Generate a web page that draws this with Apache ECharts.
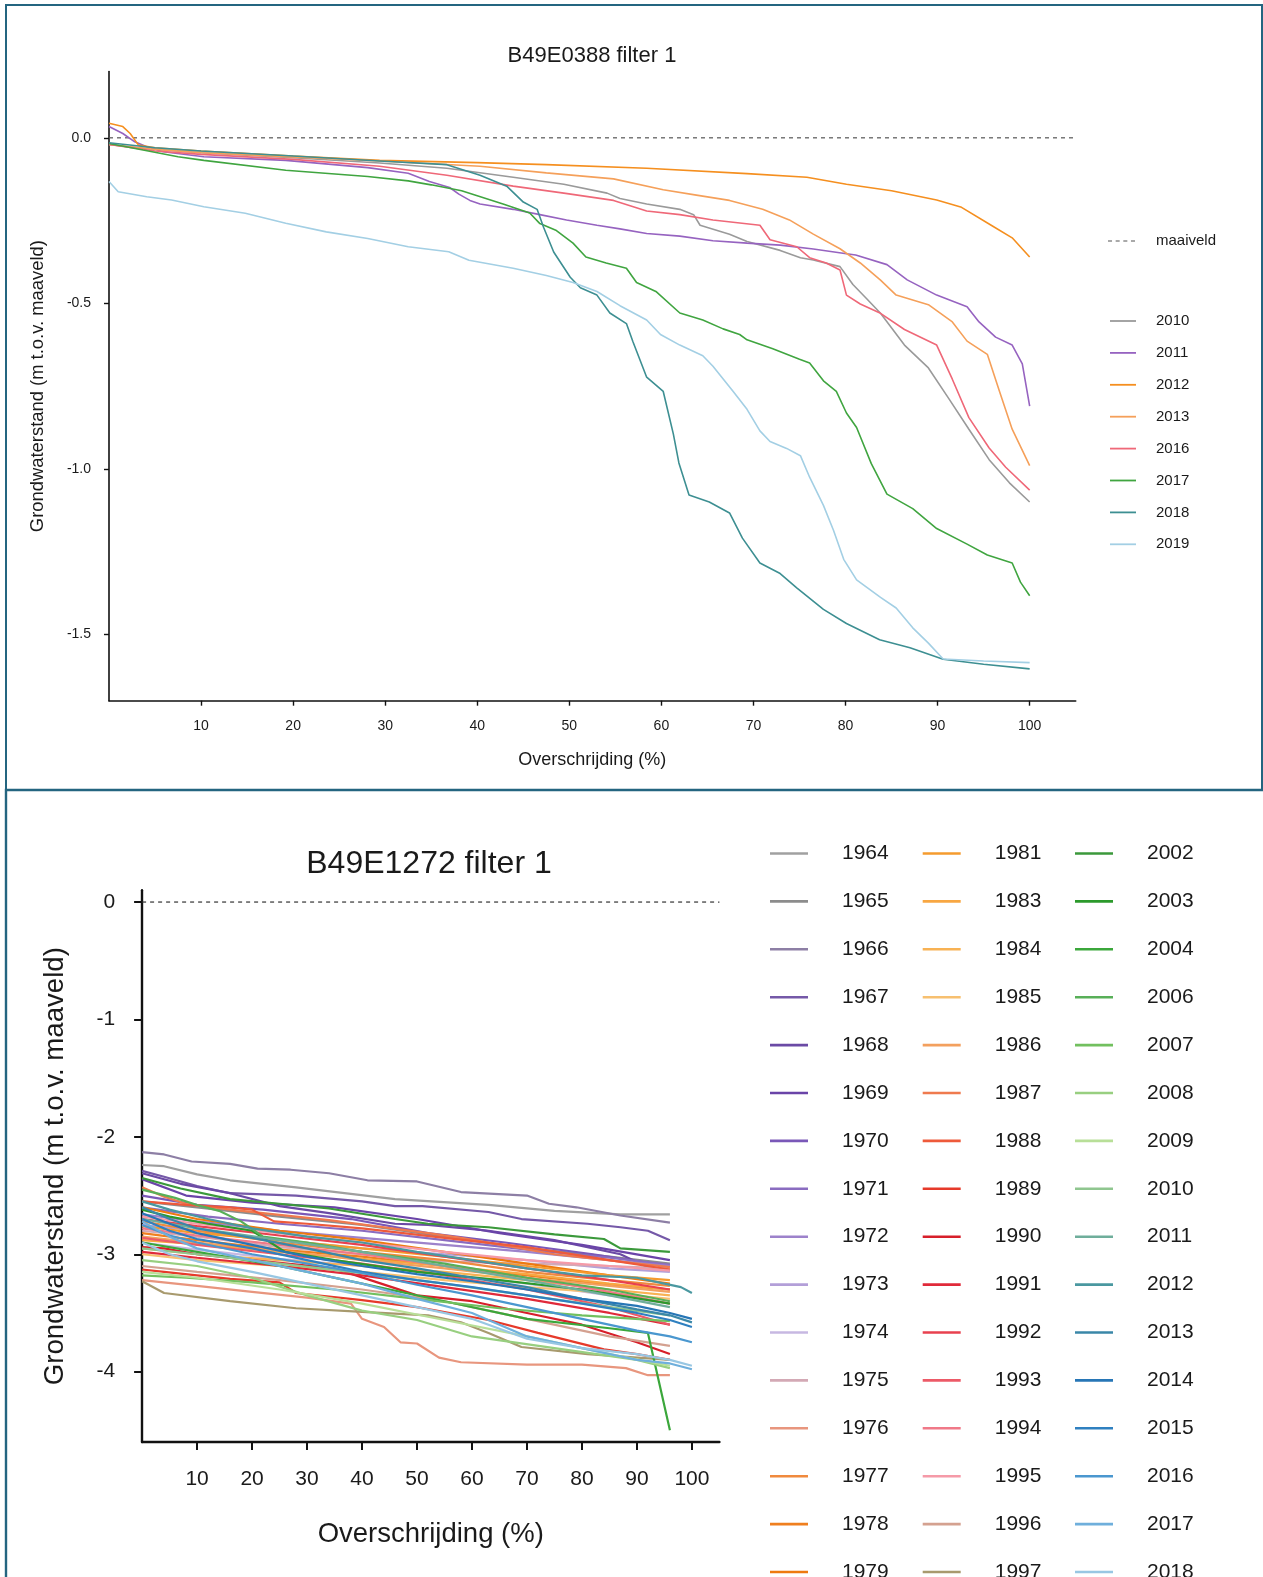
<!DOCTYPE html>
<html>
<head>
<meta charset="utf-8">
<script src="https://cdn.jsdelivr.net/npm/echarts@6/dist/echarts.min.js"></script>
<style>html,body{margin:0;padding:0;background:#fff;overflow:hidden}#c{width:1263px;height:1577px}</style>
</head>
<body>
<div id="c"></div>
<script>
// ---------- TOP PANEL DATA: B49E0388 filter 1 ----------
const TOP_YEARS = ['2010','2011','2012','2013','2016','2017','2018','2019'];
const T2010 = [[0,-0.02],[3,-0.03],[10,-0.045],[20,-0.06],[29.4,-0.076],[36.7,-0.092],[43.9,-0.119],[49.4,-0.14],[54.1,-0.167],[55.5,-0.183],[58.4,-0.2],[62,-0.216],[63.5,-0.232],[64.2,-0.264],[67.4,-0.291],[69.3,-0.313],[72.9,-0.34],[75.1,-0.362],[76.5,-0.369],[79.4,-0.389],[80.8,-0.443],[82.3,-0.486],[83.8,-0.53],[86.4,-0.626],[89,-0.695],[91.2,-0.787],[93.4,-0.88],[95.6,-0.972],[97.8,-1.042],[100,-1.1]];
const T2011 = [[0,0.034],[1.5,0.013],[2.8,-0.012],[4.1,-0.027],[5.9,-0.042],[10.3,-0.057],[19.2,-0.068],[28.1,-0.09],[32.5,-0.107],[34.8,-0.132],[37,-0.15],[38,-0.17],[39.2,-0.189],[40.3,-0.2],[43.9,-0.216],[46.8,-0.232],[49.7,-0.248],[53,-0.264],[55.5,-0.275],[58.4,-0.289],[62,-0.297],[65.6,-0.311],[69.3,-0.318],[72.9,-0.324],[76.5,-0.336],[80.1,-0.35],[81.1,-0.354],[84.5,-0.383],[86.7,-0.429],[89.9,-0.475],[93.2,-0.51],[94.5,-0.556],[96.3,-0.602],[98.1,-0.626],[99.2,-0.683],[100,-0.81]];
const T2012 = [[0,0.044],[1.5,0.034],[2.3,0.013],[3.2,-0.022],[5,-0.03],[10,-0.04],[20,-0.055],[29.4,-0.068],[40,-0.075],[47.5,-0.081],[58.4,-0.092],[69.3,-0.108],[75.8,-0.119],[80.1,-0.14],[85,-0.16],[89.9,-0.188],[92.6,-0.21],[96,-0.267],[98.1,-0.302],[100,-0.36]];
const T2013 = [[0,-0.02],[5,-0.035],[10,-0.045],[20,-0.058],[29.4,-0.07],[40.3,-0.086],[47.5,-0.106],[54.8,-0.124],[60.2,-0.157],[63.8,-0.173],[67.4,-0.189],[71,-0.216],[73.9,-0.248],[76.5,-0.291],[79.4,-0.335],[81.6,-0.378],[83.8,-0.43],[85.5,-0.475],[89,-0.504],[91.6,-0.556],[93.2,-0.614],[95.4,-0.654],[96.7,-0.764],[98.1,-0.88],[100,-0.99]];
const T2016 = [[0,-0.02],[5,-0.04],[10,-0.05],[20,-0.065],[29.4,-0.086],[36.7,-0.113],[43.9,-0.146],[49.4,-0.167],[54.8,-0.189],[58.4,-0.221],[62,-0.232],[65.6,-0.248],[70.7,-0.264],[71.8,-0.308],[74.7,-0.329],[76.1,-0.362],[77.9,-0.378],[79.4,-0.399],[80.1,-0.475],[81.6,-0.502],[83.8,-0.53],[86.4,-0.579],[89.9,-0.626],[91.6,-0.729],[93.4,-0.845],[95.6,-0.937],[97.4,-0.995],[100,-1.064]];
const T2017 = [[0,-0.017],[3.7,-0.037],[7.5,-0.057],[10.3,-0.068],[19.2,-0.098],[28.1,-0.117],[32.5,-0.13],[35,-0.142],[38.3,-0.16],[42.8,-0.2],[45.7,-0.227],[46.8,-0.259],[48.6,-0.28],[50.4,-0.318],[51.8,-0.36],[54,-0.378],[56.2,-0.394],[57.3,-0.437],[59.4,-0.464],[62,-0.529],[64.5,-0.55],[66.7,-0.577],[68.5,-0.594],[69.3,-0.61],[72.1,-0.637],[75,-0.669],[76.1,-0.68],[77.6,-0.734],[79,-0.766],[80.1,-0.831],[81.2,-0.875],[82.8,-0.984],[84.5,-1.076],[87.3,-1.12],[89.9,-1.18],[93.2,-1.227],[95.4,-1.26],[98.1,-1.284],[99,-1.342],[100,-1.383]];
const T2018 = [[0,-0.015],[5,-0.03],[10,-0.04],[20,-0.055],[29.4,-0.07],[36.7,-0.081],[40.3,-0.113],[43.2,-0.146],[45,-0.194],[46.5,-0.216],[47.2,-0.27],[48.3,-0.345],[50.1,-0.421],[51.2,-0.453],[53,-0.475],[54.4,-0.529],[56.2,-0.561],[56.9,-0.615],[58.4,-0.723],[60.2,-0.766],[61.3,-0.895],[61.9,-0.982],[63,-1.079],[65.2,-1.1],[67.4,-1.133],[68.8,-1.209],[70.7,-1.284],[72.9,-1.316],[74.7,-1.359],[77.6,-1.424],[80.1,-1.467],[83.7,-1.516],[87,-1.54],[90.6,-1.575],[95,-1.59],[100,-1.604]];
const T2019 = [[0,-0.132],[1,-0.163],[4.1,-0.178],[6.8,-0.188],[10.3,-0.208],[14.8,-0.228],[19.2,-0.258],[23.6,-0.284],[28.1,-0.304],[32.5,-0.329],[36.9,-0.344],[39.1,-0.37],[43.9,-0.394],[47.5,-0.416],[50.4,-0.437],[53,-0.464],[55.5,-0.507],[58.4,-0.55],[59.9,-0.594],[62,-0.626],[64.5,-0.658],[65.6,-0.69],[67.8,-0.766],[69.3,-0.82],[70.7,-0.885],[71.8,-0.917],[73.6,-0.938],[75.1,-0.96],[76.1,-1.025],[77.6,-1.11],[78.7,-1.186],[79.8,-1.273],[81.2,-1.335],[83.8,-1.388],[85.5,-1.42],[87.3,-1.48],[89,-1.526],[90.6,-1.574],[95,-1.58],[100,-1.585]];
const TOP_VALUES = [T2010,T2011,T2012,T2013,T2016,T2017,T2018,T2019];
const TOP_X_TICKS = [10,20,30,40,50,60,70,80,90,100];
const TOP_Y_TICKS = [0,-0.5,-1,-1.5];
const MAAIVELD = [[0,0],[105,0]];

// ---------- BOTTOM PANEL DATA: B49E1272 filter 1 ----------
const B1964 = [[0,-2.24],[4,-2.25],[10,-2.32],[16,-2.37],[28,-2.43],[46,-2.53],[63,-2.58],[75,-2.63],[87,-2.66],[96,-2.66]];
const B1965 = [[0,-2.55],[10,-2.6],[25,-2.68],[40,-2.75],[55,-2.85],[70,-2.95],[85,-3.02],[96,-3.08]];
const B1966 = [[0,-2.13],[4,-2.15],[9,-2.21],[16,-2.23],[21,-2.27],[27,-2.28],[34,-2.31],[41,-2.37],[50,-2.38],[58,-2.47],[70,-2.5],[74,-2.57],[79,-2.6],[87,-2.67],[96,-2.73]];
const B1967 = [[0,-2.29],[4,-2.34],[10,-2.42],[16,-2.48],[28,-2.5],[40,-2.55],[46,-2.59],[51,-2.59],[63,-2.64],[69,-2.7],[81,-2.74],[87,-2.77],[92,-2.8],[96,-2.88]];
const B1968 = [[0,-2.31],[7,-2.4],[16,-2.48],[25,-2.59],[34,-2.65],[46,-2.74],[52,-2.75],[63,-2.8],[75,-2.88],[87,-3.0],[92,-3.11],[96,-3.14]];
const B1969 = [[0,-2.36],[8,-2.5],[20,-2.56],[35,-2.6],[50,-2.7],[65,-2.82],[80,-2.92],[96,-3.05]];
const B1970 = [[0,-2.5],[10,-2.58],[22,-2.62],[38,-2.7],[52,-2.82],[66,-2.9],[82,-3.0],[96,-3.1]];
const B1971 = [[0,-2.6],[12,-2.68],[25,-2.74],[40,-2.8],[55,-2.88],[70,-2.96],[85,-3.03],[96,-3.09]];
const B1972 = [[0,-2.66],[10,-2.72],[25,-2.8],[40,-2.86],[55,-2.92],[70,-2.98],[85,-3.05],[96,-3.1]];
const B1973 = [[0,-2.75],[10,-2.8],[25,-2.88],[40,-2.95],[55,-3.0],[70,-3.05],[85,-3.12],[96,-3.15]];
const B1974 = [[0,-2.9],[10,-2.96],[25,-3.04],[40,-3.1],[55,-3.17],[70,-3.25],[85,-3.35],[96,-3.42]];
const B1975 = [[0,-2.8],[12,-2.86],[25,-2.94],[40,-3.0],[55,-3.06],[70,-3.08],[85,-3.1],[96,-3.12]];
const B1976 = [[0,-3.22],[10,-3.27],[20,-3.32],[30,-3.37],[38,-3.42],[40,-3.55],[44,-3.62],[47,-3.75],[50,-3.76],[54,-3.88],[58,-3.92],[70,-3.94],[80,-3.94],[88,-3.97],[92,-4.03],[96,-4.03]];
const B1977 = [[0,-2.72],[10,-2.8],[25,-2.9],[40,-2.98],[55,-3.05],[70,-3.15],[85,-3.22],[96,-3.27]];
const B1978 = [[0,-2.82],[10,-2.88],[25,-2.96],[40,-3.02],[55,-3.1],[70,-3.18],[85,-3.26],[96,-3.3]];
const B1979 = [[0,-2.6],[10,-2.7],[25,-2.8],[40,-2.88],[55,-2.98],[70,-3.08],[85,-3.18],[96,-3.25]];
const B1981 = [[0,-2.76],[10,-2.82],[25,-2.88],[40,-2.95],[55,-3.02],[70,-3.1],[85,-3.18],[96,-3.22]];
const B1983 = [[0,-2.88],[12,-2.92],[25,-2.98],[40,-3.04],[55,-3.1],[70,-3.17],[85,-3.25],[96,-3.3]];
const B1984 = [[0,-2.95],[10,-3.0],[25,-3.05],[40,-3.1],[55,-3.15],[70,-3.22],[85,-3.3],[96,-3.35]];
const B1985 = [[0,-3.0],[10,-3.05],[25,-3.1],[40,-3.15],[55,-3.22],[70,-3.28],[85,-3.33],[96,-3.38]];
const B1986 = [[0,-2.85],[10,-2.9],[25,-2.97],[40,-3.05],[55,-3.12],[70,-3.2],[85,-3.27],[96,-3.32]];
const B1987 = [[0,-2.43],[4,-2.51],[8,-2.57],[16,-2.62],[34,-2.71],[52,-2.82],[58,-2.86],[75,-3.0],[96,-3.11]];
const B1988 = [[0,-2.55],[8,-2.58],[16,-2.6],[20,-2.62],[24,-2.72],[30,-2.74],[40,-2.78],[55,-2.86],[70,-2.94],[85,-3.05],[96,-3.13]];
const B1989 = [[0,-3.13],[4,-3.15],[16,-3.21],[25,-3.24],[28,-3.33],[34,-3.36],[40,-3.39],[50,-3.45],[63,-3.56],[72,-3.67],[84,-3.81],[90,-3.85],[96,-3.9]];
const B1990 = [[0,-2.94],[4,-2.95],[10,-3.0],[20,-3.05],[35,-3.12],[50,-3.35],[60,-3.4],[70,-3.5],[80,-3.6],[90,-3.75],[96,-3.85]];
const B1991 = [[0,-2.98],[10,-3.03],[25,-3.1],[40,-3.18],[55,-3.28],[70,-3.38],[85,-3.5],[96,-3.6]];
const B1992 = [[0,-2.7],[10,-2.76],[25,-2.84],[40,-2.92],[55,-3.02],[70,-3.12],[85,-3.22],[96,-3.3]];
const B1993 = [[0,-2.86],[10,-2.92],[25,-3.0],[40,-3.08],[55,-3.18],[70,-3.3],[85,-3.45],[96,-3.6]];
const B1994 = [[0,-2.78],[10,-2.84],[25,-2.92],[40,-3.0],[55,-3.1],[70,-3.2],[85,-3.32],[96,-3.42]];
const B1995 = [[0,-2.68],[10,-2.74],[25,-2.82],[40,-2.9],[55,-2.98],[70,-3.05],[85,-3.1],[96,-3.14]];
const B1996 = [[0,-3.1],[10,-3.15],[25,-3.22],[40,-3.3],[55,-3.4],[70,-3.55],[85,-3.7],[96,-3.78]];
const B1997 = [[0,-3.23],[4,-3.33],[16,-3.4],[28,-3.46],[40,-3.49],[52,-3.52],[58,-3.58],[63,-3.67],[69,-3.79],[81,-3.85],[96,-3.9]];
const B2002 = [[0,-2.35],[7,-2.44],[16,-2.53],[25,-2.57],[34,-2.61],[46,-2.7],[52,-2.74],[63,-2.77],[75,-2.83],[84,-2.87],[87,-2.95],[96,-2.98]];
const B2003 = [[0,-2.62],[5,-2.68],[12,-2.74],[20,-2.8],[26,-2.98],[35,-3.05],[50,-3.15],[65,-3.22],[80,-3.3],[96,-3.42]];
const B2004 = [[0,-2.9],[10,-2.98],[25,-3.1],[40,-3.25],[55,-3.4],[70,-3.55],[85,-3.63],[92,-3.67],[96,-4.5]];
const B2006 = [[0,-2.45],[6,-2.52],[10,-2.58],[14,-2.63],[18,-2.72],[22,-2.85],[30,-2.9],[40,-2.98],[55,-3.08],[70,-3.2],[85,-3.3],[96,-3.4]];
const B2007 = [[0,-3.18],[8,-3.2],[20,-3.24],[35,-3.3],[50,-3.38],[65,-3.46],[80,-3.52],[96,-3.57]];
const B2008 = [[0,-3.05],[10,-3.1],[20,-3.2],[30,-3.35],[40,-3.48],[50,-3.56],[60,-3.7],[75,-3.8],[90,-3.9],[96,-3.97]];
const B2009 = [[0,-3.15],[10,-3.2],[25,-3.3],[40,-3.42],[55,-3.56],[70,-3.7],[85,-3.85],[96,-3.95]];
const B2010 = [[0,-2.95],[10,-3.0],[25,-3.08],[40,-3.16],[55,-3.25],[70,-3.35],[85,-3.45],[96,-3.52]];
const B2011 = [[0,-2.7],[10,-2.78],[25,-2.88],[40,-2.98],[55,-3.1],[70,-3.22],[85,-3.35],[96,-3.45]];
const B2012 = [[0,-2.55],[5,-2.62],[12,-2.7],[20,-2.78],[30,-2.85],[40,-2.9],[50,-2.98],[60,-3.05],[70,-3.12],[80,-3.18],[90,-3.2],[95,-3.25],[98,-3.28],[100,-3.33]];
const B2013 = [[0,-2.6],[5,-2.7],[10,-2.78],[20,-2.86],[30,-2.95],[40,-3.05],[50,-3.12],[60,-3.2],[70,-3.28],[80,-3.38],[90,-3.47],[96,-3.52],[100,-3.58]];
const B2014 = [[0,-2.65],[5,-2.74],[10,-2.82],[20,-2.92],[30,-3.02],[40,-3.1],[50,-3.17],[60,-3.23],[70,-3.3],[80,-3.38],[90,-3.44],[96,-3.5],[100,-3.55]];
const B2015 = [[0,-2.7],[5,-2.8],[10,-2.87],[20,-2.95],[30,-3.05],[40,-3.15],[50,-3.22],[60,-3.28],[70,-3.35],[80,-3.42],[90,-3.5],[96,-3.56],[100,-3.62]];
const B2016 = [[0,-2.75],[5,-2.84],[10,-2.9],[20,-3.0],[30,-3.08],[40,-3.16],[50,-3.26],[60,-3.35],[70,-3.45],[80,-3.55],[90,-3.65],[96,-3.7],[100,-3.75]];
const B2017 = [[0,-2.72],[5,-2.85],[10,-2.95],[20,-3.05],[30,-3.15],[40,-3.25],[50,-3.38],[60,-3.5],[70,-3.7],[80,-3.8],[90,-3.9],[96,-3.93],[100,-3.98]];
const B2018 = [[0,-2.9],[5,-3.0],[10,-3.06],[20,-3.15],[30,-3.25],[40,-3.35],[50,-3.45],[60,-3.55],[70,-3.72],[80,-3.8],[90,-3.85],[96,-3.9],[100,-3.95]];
const BOT_COL1 = ['1964','1965','1966','1967','1968','1969','1970','1971','1972','1973','1974','1975','1976','1977','1978','1979'];
const BOT_COL2 = ['1981','1983','1984','1985','1986','1987','1988','1989','1990','1991','1992','1993','1994','1995','1996','1997'];
const BOT_COL3 = ['2002','2003','2004','2006','2007','2008','2009','2010','2011','2012','2013','2014','2015','2016','2017','2018'];
const BOT_VALUES = [B1964,B1965,B1966,B1967,B1968,B1969,B1970,B1971,B1972,B1973,B1974,B1975,B1976,B1977,B1978,B1979,
  B1981,B1983,B1984,B1985,B1986,B1987,B1988,B1989,B1990,B1991,B1992,B1993,B1994,B1995,B1996,B1997,
  B2002,B2003,B2004,B2006,B2007,B2008,B2009,B2010,B2011,B2012,B2013,B2014,B2015,B2016,B2017,B2018];
const BOT_X_TICKS = [10,20,30,40,50,60,70,80,90,100];
const BOT_Y_TICKS = [0,-1,-2,-3,-4];

// ---------- STYLES ----------
const TOP_COLORS = ['#9a9a9a','#9663c0','#f58f1f','#f5a05a','#ef6878','#40a540','#3d8f92','#a3cfe4'];
const BOT_COLORS = ['#a0a0a0','#8c8c8c','#8d7fa5','#7559a8','#6b4aa5','#6a44a8','#7a58b8','#8a6cc0','#9d82cb','#b39fd8','#c7b8e2','#d3a9b5','#e8967e','#f08a3e','#ef7f1f','#ee7a10',
  '#f59b2e','#f8a742','#f8b254','#f7c070','#f3a05e','#ef7a4e','#ee5a3a','#e63a2a','#d71f2a','#e02a3a','#e8414f','#ec5a67','#f07988','#f59aa8','#d4a190','#a89a6e',
  '#3b993b','#2c9a2c','#3ba73b','#58af58','#72c05f','#98cf80','#b8df98','#8fc68f','#6fae9b','#4a98a0','#3a87a8','#2776b6','#2f80c0','#4a97cf','#6fafdc','#98c7e3'];
const FONT = '"Liberation Sans", Arial, Helvetica, sans-serif';
const INK = '#1a1a1a';
const FRAME = '#246580';
const DASH_ICON = 'path://M0,0h4v1h-4z M7.6,0h4v1h-4z M15.2,0h4v1h-4z M22.8,0h4v1h-4z';

const BOT_YEARS = BOT_COL1.concat(BOT_COL2, BOT_COL3);

const series = [];
series.push({name:'maaiveld', type:'line', xAxisIndex:0, yAxisIndex:0, data:MAAIVELD, symbol:'none',
  lineStyle:{color:'#555', width:1.2, type:[4,4]}, itemStyle:{color:'#555'}, silent:true, z:1});
TOP_YEARS.forEach((y,i)=>{
  series.push({name:y, type:'line', xAxisIndex:0, yAxisIndex:0, data:TOP_VALUES[i], symbol:'none',
    lineStyle:{color:TOP_COLORS[i], width:1.6}, itemStyle:{color:TOP_COLORS[i]}, z:2});
});
series.push({name:'b maaiveld', type:'line', xAxisIndex:1, yAxisIndex:1, data:MAAIVELD, symbol:'none',
  lineStyle:{color:'#333', width:1.2, type:[4,4]}, itemStyle:{color:'#333'}, silent:true, z:1});
BOT_YEARS.forEach((y,i)=>{
  series.push({name:'b'+y, type:'line', xAxisIndex:1, yAxisIndex:1, data:BOT_VALUES[i], symbol:'none',
    lineStyle:{color:BOT_COLORS[i], width:2.2}, itemStyle:{color:BOT_COLORS[i]}, z:2});
});

function botLegend(list, left){
  return {data:list.map(y=>({name:'b'+y, icon:'rect'})), orient:'vertical', left:left, top:837.5, padding:5,
    height:900, itemWidth:38, itemHeight:2.6, itemGap:25.9, selectedMode:false,
    formatter:n=>n.replace(/^b/,''),
    textStyle:{fontSize:21, lineHeight:22, color:INK, fontFamily:FONT, padding:[0,0,0,29]}};
}

const option = {
  animation:false,
  backgroundColor:'#ffffff',
  grid:[
    {left:109, top:71.6, width:966.7, height:629.1},
    {left:142.1, top:890.3, width:577.3, height:551.8}
  ],
  xAxis:[
    {type:'value', gridIndex:0, min:0, max:105,
      name:'Overschrijding (%)', nameLocation:'middle', nameGap:50,
      nameTextStyle:{fontSize:18, color:INK, fontFamily:FONT},
      axisLine:{onZero:false, lineStyle:{color:'#111', width:1.6}},
      axisTick:{show:true, length:5, customValues:TOP_X_TICKS, lineStyle:{color:'#111', width:1.4}},
      axisLabel:{customValues:TOP_X_TICKS, margin:18, fontSize:14, color:INK, fontFamily:FONT},
      splitLine:{show:false}},
    {type:'value', gridIndex:1, min:0, max:105,
      name:'Overschrijding (%)', nameLocation:'middle', nameGap:78,
      nameTextStyle:{fontSize:27.5, color:INK, fontFamily:FONT},
      axisLine:{onZero:false, lineStyle:{color:'#111', width:2.4}},
      axisTick:{show:true, length:8, customValues:BOT_X_TICKS, lineStyle:{color:'#111', width:2}},
      axisLabel:{customValues:BOT_X_TICKS, margin:27, fontSize:21, color:INK, fontFamily:FONT},
      splitLine:{show:false}}
  ],
  yAxis:[
    {type:'value', gridIndex:0, min:-1.7, max:0.2,
      name:'Grondwaterstand (m t.o.v. maaveld)', nameLocation:'middle', nameGap:62,
      nameTextStyle:{fontSize:18.4, color:INK, fontFamily:FONT},
      axisLine:{show:true, onZero:false, lineStyle:{color:'#111', width:1.6}},
      axisTick:{show:true, length:5, customValues:TOP_Y_TICKS, lineStyle:{color:'#111', width:1.4}},
      axisLabel:{customValues:TOP_Y_TICKS, margin:18, fontSize:14, color:INK, fontFamily:FONT,
        formatter:v=>Number(v).toFixed(1)},
      splitLine:{show:false}},
    {type:'value', gridIndex:1, min:-4.6, max:0.1,
      name:'Grondwaterstand (m t.o.v. maaveld)', nameLocation:'middle', nameGap:73,
      nameTextStyle:{fontSize:27.6, color:INK, fontFamily:FONT},
      axisLine:{show:true, onZero:false, lineStyle:{color:'#111', width:2.4}},
      axisTick:{show:true, length:8, customValues:BOT_Y_TICKS, lineStyle:{color:'#111', width:2}},
      axisLabel:{customValues:BOT_Y_TICKS, margin:27, fontSize:21, color:INK, fontFamily:FONT,
        formatter:v=>String(Math.round(v))},
      splitLine:{show:false}}
  ],
  legend:[
    {data:[{name:'maaiveld', icon:DASH_ICON}], orient:'vertical', left:1103, top:228, padding:5, itemWidth:27, itemHeight:1.4,
      selectedMode:false, textStyle:{fontSize:15, lineHeight:16, color:INK, fontFamily:FONT, padding:[0,0,0,16]}},
    {data:TOP_YEARS.map(y=>({name:y, icon:'rect'})), orient:'vertical', left:1105, top:308, padding:5, height:400,
      itemWidth:26, itemHeight:1.8, itemGap:15.9,
      selectedMode:false, textStyle:{fontSize:15, lineHeight:16, color:INK, fontFamily:FONT, padding:[0,0,0,15]}},
    botLegend(BOT_COL1, 765),
    botLegend(BOT_COL2, 917.7),
    botLegend(BOT_COL3, 1070)
  ],
  graphic:[
    {type:'rect', shape:{x:6, y:5, width:1256, height:785}, style:{fill:'none', stroke:FRAME, lineWidth:2}, silent:true},
    {type:'rect', shape:{x:6, y:790, width:1320, height:820}, style:{fill:'none', stroke:FRAME, lineWidth:2.4}, silent:true},
    {type:'text', x:592, y:56, style:{text:'B49E0388 filter 1', fontSize:22, fontFamily:FONT, fill:INK,
      align:'center', verticalAlign:'middle', textAlign:'center', textVerticalAlign:'middle'}, silent:true},
    {type:'text', x:429, y:864, style:{text:'B49E1272 filter 1', fontSize:32, fontFamily:FONT, fill:INK,
      align:'center', verticalAlign:'middle', textAlign:'center', textVerticalAlign:'middle'}, silent:true}
  ],
  series:series
};

const chart = echarts.init(document.getElementById('c'), null, {renderer:'canvas'});
chart.setOption(option);
</script>
</body>
</html>
